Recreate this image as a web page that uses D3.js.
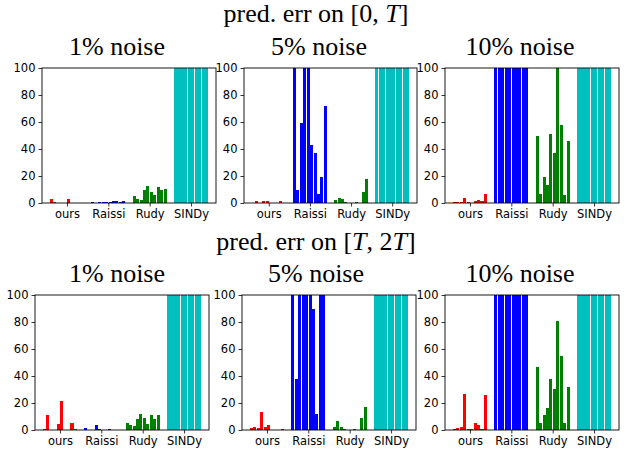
<!DOCTYPE html>
<html>
<head>
<meta charset="utf-8">
<script src="https://cdn.jsdelivr.net/npm/d3@7"></script>
<style>
  body { margin: 0; background: #fff; }
  svg { display: block; }
</style>
</head>
<body>
<svg id="chart" width="633" height="449"></svg>
<script>
// methods and colours
const methods = ["ours", "Raissi", "Rudy", "SINDy"];
const colors = ["#ff0000", "#0000ff", "#008000", "#00bfbf"];
const yTicks = [0, 20, 40, 60, 80, 100];
const noiseLabels = ["1% noise", "5% noise", "10% noise"];

// pred. err on [0,T]
const ours_0T_1 = [3.2, 1.1, 0.3, 0.2, 0.3, 3.2, 0.3, 0.3, 0.3, 0.3];
const raissi_0T_1 = [1.0, 0.3, 1.0, 1.0, 1.0, 1.0, 1.6, 1.6, 1.0, 1.7];
const rudy_0T_1 = [5.5, 3.2, 2.5, 10, 12.5, 8.5, 6, 11.5, 9.8, 10.5];
const sindy_0T_1 = [100, 100, 100, 100, 100, 100, 100, 100, 100, 100];

const ours_0T_5 = [0.3, 1.2, 0.3, 1.8, 1.2, 0.3, 0.3, 0.3, 1.8, 0.3];
const raissi_0T_5 = [100, 10, 59, 100, 100, 43, 37, 7, 19, 72];
const rudy_0T_5 = [2.5, 4, 3.2, 1, 0.3, 0.2, 1, 0.3, 8.5, 17.5];
const sindy_0T_5 = [100, 100, 100, 100, 100, 100, 100, 100, 100, 100];

const ours_0T_10 = [1, 1, 1, 4, 1, 0.3, 1.2, 2, 1.2, 7];
const raissi_0T_10 = [100, 100, 100, 100, 100, 100, 100, 100, 100, 100];
const rudy_0T_10 = [50, 7, 19, 13, 51, 37, 100, 58, 6, 46];
const sindy_0T_10 = [100, 100, 100, 100, 100, 100, 100, 100, 100, 100];

// pred. err on [T,2T]
const ours_T2T_1 = [0.8, 11, 0.3, 0.3, 4.5, 21.5, 0.3, 0.3, 5, 0.8];
const raissi_T2T_1 = [1.5, 0.3, 0.3, 3.5, 1, 0.3, 0.3, 1, 0.3, 0.3];
const rudy_T2T_1 = [5, 3.5, 3, 8, 11.5, 9, 4.5, 11, 8, 11];
const sindy_T2T_1 = [100, 100, 100, 100, 100, 100, 100, 100, 100, 100];

const ours_T2T_5 = [1.5, 2, 1.5, 13.5, 2.5, 3.5, 0.3, 0.3, 0.3, 1];
const raissi_T2T_5 = [100, 38, 100, 100, 100, 100, 90, 12, 100, 100];
const rudy_T2T_5 = [2.5, 6.5, 2.5, 1, 0.3, 0.3, 1, 0.3, 9, 17];
const sindy_T2T_5 = [100, 100, 100, 100, 100, 100, 100, 100, 100, 100];

const ours_T2T_10 = [0.8, 1.5, 2, 26.5, 0.8, 0.8, 5.5, 3.5, 1, 26];
const raissi_T2T_10 = [100, 100, 100, 100, 100, 100, 100, 100, 100, 100];
const rudy_T2T_10 = [46.5, 5.5, 11, 16.5, 38, 30.5, 80.5, 55, 5.5, 32];
const sindy_T2T_10 = [100, 100, 100, 100, 100, 100, 100, 100, 100, 100];

const panels = [
    { series: [ours_0T_1, raissi_0T_1, rudy_0T_1, sindy_0T_1], box: [42, 216, 68, 203], title: 0, tx: 117 },
    { series: [ours_0T_5, raissi_0T_5, rudy_0T_5, sindy_0T_5], box: [244, 417, 68, 203], title: 1, tx: 319 },
    { series: [ours_0T_10, raissi_0T_10, rudy_0T_10, sindy_0T_10], box: [445, 619, 68, 203], title: 2, tx: 520 },
    { series: [ours_T2T_1, raissi_T2T_1, rudy_T2T_1, sindy_T2T_1], box: [35, 209, 295, 430], title: 0, tx: 117 },
    { series: [ours_T2T_5, raissi_T2T_5, rudy_T2T_5, sindy_T2T_5], box: [242, 416, 295, 430], title: 1, tx: 316 },
    { series: [ours_T2T_10, raissi_T2T_10, rudy_T2T_10, sindy_T2T_10], box: [445, 619, 295, 430], title: 2, tx: 520 },
];

const svg = d3.select("#chart");
const groupStep = 12;
const barW = 0.88;
const dataMin = -barW / 2;
const dataMax = (methods.length - 1) * groupStep + 9 + barW / 2;
const pad = (dataMax - dataMin) * 0.05;

// row titles
const rowTitles = [
    { y: 22, parts: ["pred. err on [0, ", "T", "]"] },
    { y: 250, parts: ["pred. err on [", "T", ", 2", "T", "]"] },
];
rowTitles.forEach((r) => {
    const t = svg.append("text")
        .attr("x", 316)
        .attr("y", r.y)
        .attr("text-anchor", "middle")
        .attr("font-family", "Liberation Serif, serif")
        .attr("font-size", 26);
    r.parts.forEach((p) => {
        t.append("tspan")
            .attr("font-style", p === "T" ? "italic" : "normal")
            .text(p);
    });
});

panels.forEach((p, pi) => {
    const [x0, x1, y0, y1] = p.box;
    const x = d3.scaleLinear().domain([dataMin - pad, dataMax + pad]).range([x0, x1]);
    const y = d3.scaleLinear().domain([0, 100]).range([y1, y0]);
    const g = svg.append("g");
    const clipId = `clip${pi}`;
    g.append("clipPath").attr("id", clipId)
        .append("rect").attr("x", x0).attr("y", y0).attr("width", x1 - x0).attr("height", y1 - y0);

    const bars = [];
    p.series.forEach((vals, gi) => {
        vals.forEach((v, i) => bars.push({ gi, i, v }));
    });
    // snap bar edges to whole pixels, as the original renderer did
    const left = (d) => Math.round(x(d.gi * groupStep + d.i - barW / 2));
    const right = (d) => Math.round(x(d.gi * groupStep + d.i + barW / 2));
    g.append("g")
        .attr("clip-path", `url(#${clipId})`)
        .selectAll("rect")
        .data(bars)
        .join("rect")
        .attr("shape-rendering", "crispEdges")
        .attr("x", left)
        .attr("width", (d) => right(d) - left(d))
        .attr("y", (d) => y(Math.min(d.v, 100)))
        .attr("height", (d) => y(0) - y(Math.min(d.v, 100)))
        .attr("fill", (d) => colors[d.gi]);

    const yAxis = d3.axisLeft(y).tickValues(yTicks).tickSize(3.5).tickPadding(3);
    const xAxis = d3.axisBottom(x)
        .tickValues(methods.map((m, gi) => gi * groupStep + 4.5))
        .tickFormat((d, i) => methods[i])
        .tickSize(3.5).tickPadding(3);

    const ya = g.append("g").attr("transform", `translate(${x0},0)`).call(yAxis);
    const xa = g.append("g").attr("transform", `translate(0,${y1})`).call(xAxis);
    [ya, xa].forEach((a) => {
        a.select(".domain").remove();
        a.selectAll("text").attr("font-family", "DejaVu Sans, sans-serif").attr("font-size", 11.5).attr("fill", "#000");
        a.selectAll("line").attr("stroke", "#000").attr("stroke-width", 0.8);
    });

    g.append("rect")
        .attr("x", x0).attr("y", y0)
        .attr("width", x1 - x0).attr("height", y1 - y0)
        .attr("fill", "none").attr("stroke", "#000").attr("stroke-width", 0.9);

    svg.append("text")
        .attr("x", p.tx)
        .attr("y", y0 - 13)
        .attr("text-anchor", "middle")
        .attr("font-family", "Liberation Serif, serif")
        .attr("font-size", 26)
        .text(noiseLabels[p.title]);
});
</script>
</body>
</html>
